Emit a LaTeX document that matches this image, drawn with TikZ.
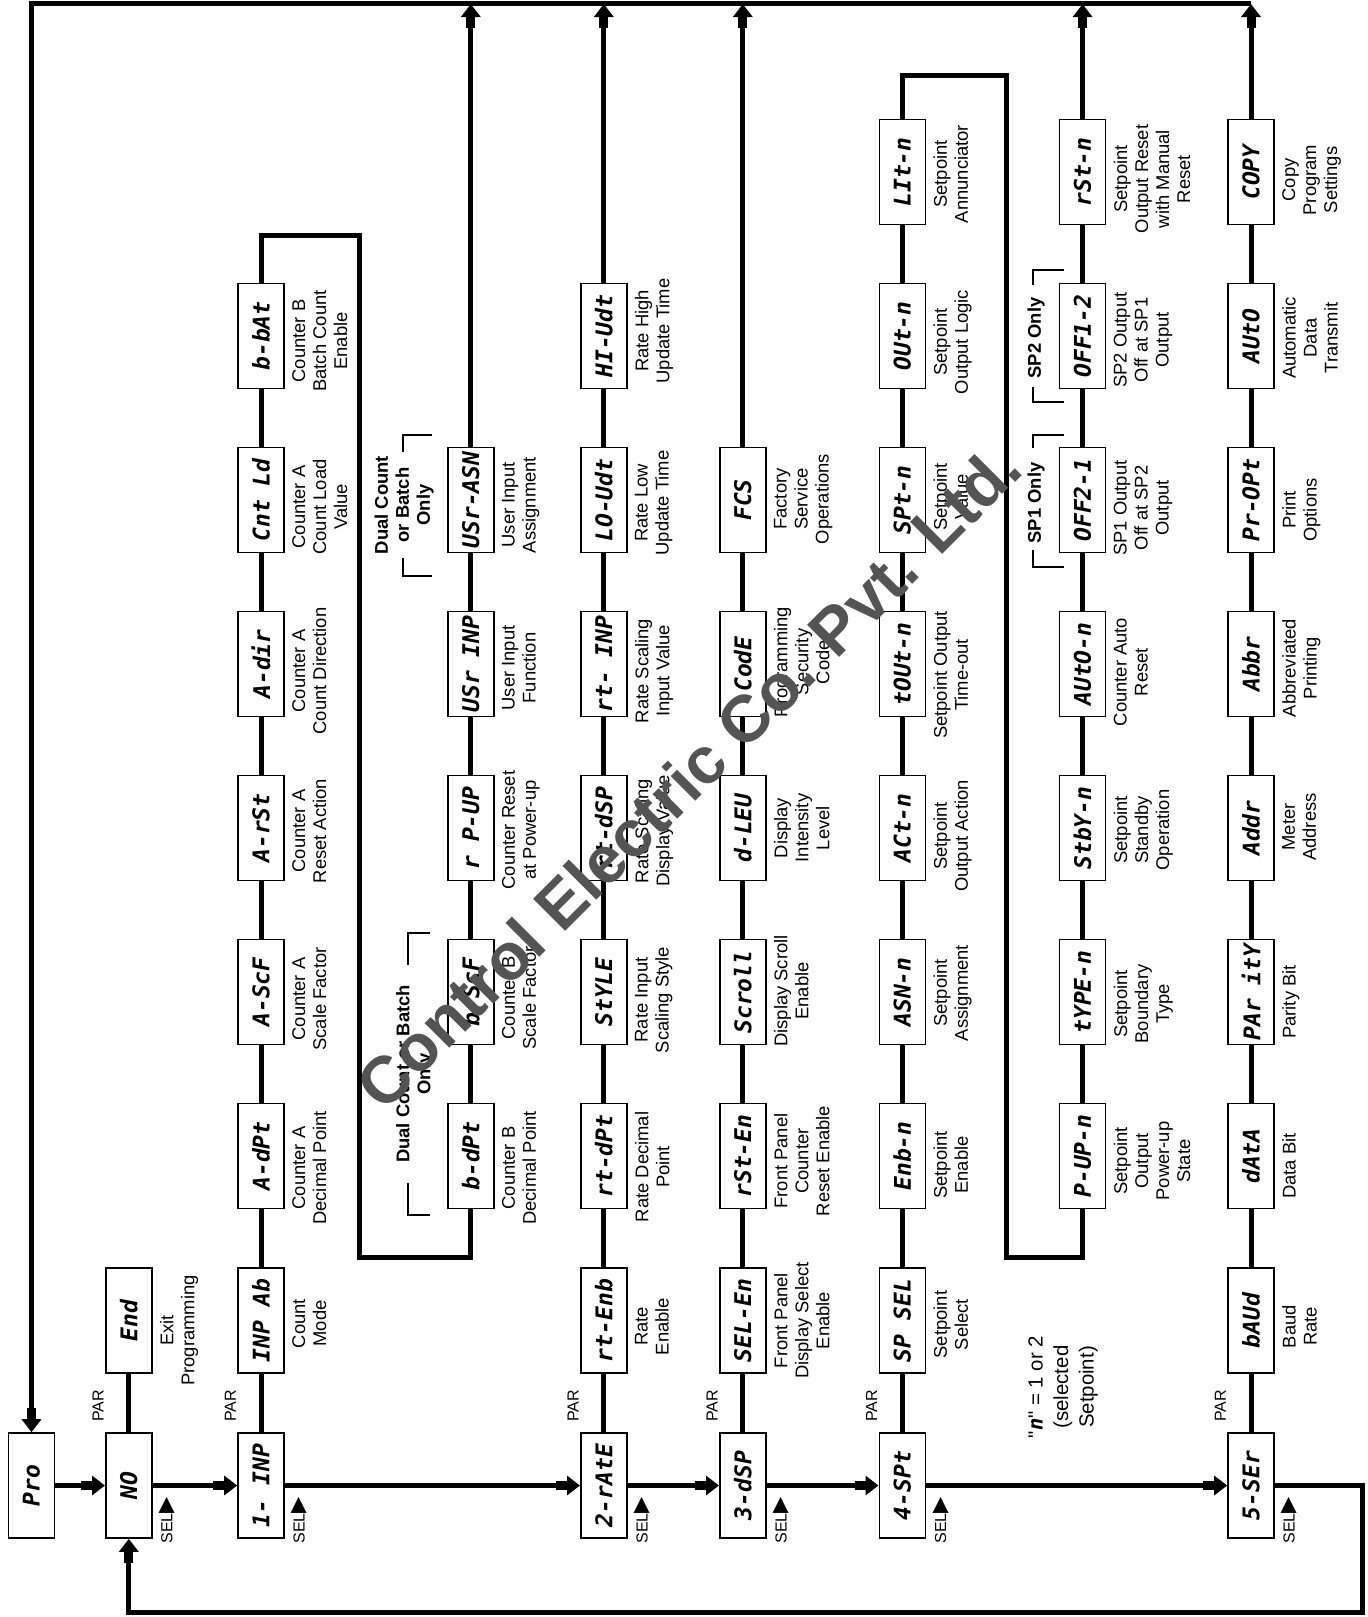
\documentclass[tikz,border=0pt]{standalone}
\usepackage{fontspec}
\setmainfont{Liberation Sans}
\newfontfamily\segfont{DejaVu Sans Mono}
\newfontfamily\symfont{DejaVu Sans}
\newfontfamily\plainfont{Liberation Sans}
\usetikzlibrary{arrows.meta,calc}
\newcommand{\rb}[1]{\rotatebox{90}{#1}}
\newcommand{\dscr}[3]{\node[desc] (d#1) at ($(#1.east)+(7,#2)$) {#3};}
\newcommand{\parl}[1]{\node[lbl,anchor=south west] (p#1) at ($(#1.north west)+(-1,-10)$) {PAR};}
\newcommand{\sell}[1]{\node[lbl,anchor=north west] (s#1) at ($(#1.south east)+(6,5)$) {SEL{\symfont\fontsize{10.5}{10}\selectfont ▶}};}
\begin{document}
\begin{tikzpicture}[x=0.5pt,y=-0.5pt,
 lcd/.style={draw,line width=0.8pt,minimum width=23pt,minimum height=52.5pt,inner sep=0pt,font=\fontsize{11.5}{12}\segfont\bfseries\itshape},
 wire/.style={line width=2.5pt},
 arr/.style={-{Rectangle[length=5.5pt,width=4.5pt]Triangle[length=6.5pt,width=9.5pt]}},
 desc/.style={rotate=90,anchor=north,align=center,inner sep=0pt,font=\fontsize{9.2}{10.5}\selectfont},
 lbl/.style={rotate=90,inner sep=0pt,font=\fontsize{8}{9}\selectfont},
 only/.style={rotate=90,align=center,inner sep=0pt,font=\fontsize{9.2}{10.5}\selectfont\bfseries},
 brk/.style={line width=0.6pt},
]
\useasboundingbox (0,0) rectangle (1368,1617);
% columns
\def\cP{31.5}\def\cN{128.8}\def\cA{261}\def\cB{470.8}\def\cC{603.8}\def\cD{742.8}\def\cE{902.3}\def\cF{1082.6}\def\cG{1251}
% main row
\node[lcd] (npro) at (\cP,1485.5) {\rb{Pro}};
\node[lcd] (nno) at (\cN,1485.5) {\rb{NO}};
\node[lcd] (ninp) at (\cA,1485.5) {\rb{1- INP}};
\node[lcd] (nrate) at (\cC,1485.5) {\rb{2-rAtE}};
\node[lcd] (ndsp) at (\cD,1485.5) {\rb{3-dSP}};
\node[lcd] (nspt) at (\cE,1485.5) {\rb{4-SPt}};
\node[lcd] (nser) at (\cG,1485.5) {\rb{5-SEr}};
% row 1
\node[lcd] (nend) at (\cN,1320.5) {\rb{End}};
\node[lcd] (ninpab) at (\cA,1320.5) {\rb{INP Ab}};
\node[lcd] (nrtenb) at (\cC,1320.5) {\rb{rt-Enb}};
\node[lcd] (nselen) at (\cD,1320.5) {\rb{SEL-En}};
\node[lcd] (nspsel) at (\cE,1320.5) {\rb{SP SEL}};
\node[lcd] (nbaud) at (\cG,1320.5) {\rb{bAUd}};
% row 2
\node[lcd] (nadpt) at (\cA,1156) {\rb{A-dPt}};
\node[lcd] (nbdpt) at (\cB,1156) {\rb{b-dPt}};
\node[lcd] (nrtdpt) at (\cC,1156) {\rb{rt-dPt}};
\node[lcd] (nrsten) at (\cD,1156) {\rb{rSt-En}};
\node[lcd] (nenbn) at (\cE,1156) {\rb{Enb-n}};
\node[lcd] (npupn) at (\cF,1156) {\rb{P-UP-n}};
\node[lcd] (ndata) at (\cG,1156) {\rb{dAtA}};
% row 3
\node[lcd] (nascf) at (\cA,992) {\rb{A-ScF}};
\node[lcd] (nbscf) at (\cB,992) {\rb{b-ScF}};
\node[lcd] (nstyle) at (\cC,992) {\rb{StYLE}};
\node[lcd] (nscroll) at (\cD,992) {\rb{Scroll}};
\node[lcd] (nasnn) at (\cE,992) {\rb{ASN-n}};
\node[lcd] (ntypen) at (\cF,992) {\rb{tYPE-n}};
\node[lcd] (nparity) at (\cG,992) {\rb{PAr itY}};
% row 4
\node[lcd] (narst) at (\cA,828) {\rb{A-rSt}};
\node[lcd] (nrpup) at (\cB,828) {\rb{r P-UP}};
\node[lcd] (nrtdsp) at (\cC,828) {\rb{rt-dSP}};
\node[lcd] (ndleu) at (\cD,828) {\rb{d-LEU}};
\node[lcd] (nactn) at (\cE,828) {\rb{ACt-n}};
\node[lcd] (nstbyn) at (\cF,828) {\rb{StbY-n}};
\node[lcd] (naddr) at (\cG,828) {\rb{Addr}};
% row 5
\node[lcd] (nadir) at (\cA,664) {\rb{A-dir}};
\node[lcd] (nusrinp) at (\cB,664) {\rb{USr INP}};
\node[lcd] (nrtinp) at (\cC,664) {\rb{rt- INP}};
\node[lcd] (ncode) at (\cD,664) {\rb{CodE}};
\node[lcd] (ntoutn) at (\cE,664) {\rb{tOUt-n}};
\node[lcd] (nauton) at (\cF,664) {\rb{AUtO-n}};
\node[lcd] (nabbr) at (\cG,664) {\rb{Abbr}};
% row 6
\node[lcd] (ncntld) at (\cA,500) {\rb{Cnt Ld}};
\node[lcd] (nusrasn) at (\cB,500) {\rb{USr-ASN}};
\node[lcd] (nloudt) at (\cC,500) {\rb{LO-Udt}};
\node[lcd] (nfcs) at (\cD,500) {\rb{FCS}};
\node[lcd] (nsptn) at (\cE,500) {\rb{SPt-n}};
\node[lcd] (noff21) at (\cF,500) {\rb{OFF2-1}};
\node[lcd] (npropt) at (\cG,500) {\rb{Pr-OPt}};
% row 7
\node[lcd] (nbbat) at (\cA,336) {\rb{b-bAt}};
\node[lcd] (nhiudt) at (\cC,336) {\rb{HI-Udt}};
\node[lcd] (noutn) at (\cE,336) {\rb{OUt-n}};
\node[lcd] (noff12) at (\cF,336) {\rb{OFF1-2}};
\node[lcd] (nautox) at (\cG,336) {\rb{AUtO}};
% row 8
\node[lcd] (nlitn) at (\cE,172) {\rb{LIt-n}};
\node[lcd] (nrstn) at (\cF,172) {\rb{rSt-n}};
\node[lcd] (ncopy) at (\cG,172) {\rb{COPY}};

% coordinates
\coordinate (tl) at (\cP,3);
\coordinate (ta) at (0,4);
\coordinate (la) at (\cA,235);
\coordinate (lb) at (359,235);
\coordinate (lc) at (359,1257);
\coordinate (ld) at (\cB,1257);
\coordinate (ma) at (\cE,75);
\coordinate (mb) at (1006,75);
\coordinate (mc) at (1006,1257);
\coordinate (md) at (\cF,1257);
\coordinate (rr) at (1362,1612);

% top line and entry
\draw[wire,arr] (ncopy.north |- tl) -- (tl) -- (npro);
% main flow
\draw[wire,arr] (npro) -- (nno);
\draw[wire,arr] (nno) -- (ninp);
\draw[wire,arr] (ninp) -- (nrate);
\draw[wire,arr] (nrate) -- (ndsp);
\draw[wire,arr] (ndsp) -- (nspt);
\draw[wire,arr] (nspt) -- (nser);
\draw[wire,arr] (nser.east) -- (nser.east -| rr) -- (rr) -- (nno |- rr) -- (nno);
% columns
\draw[wire] (nno) -- (nend);
\draw[wire] (ninp) -- (ninpab) -- (nadpt) -- (nascf) -- (narst) -- (nadir) -- (ncntld) -- (nbbat);
\draw[wire] (nbbat) -- (la) -- (lb) -- (lc) -- (ld) -- (nbdpt);
\draw[wire] (nbdpt) -- (nbscf) -- (nrpup) -- (nusrinp) -- (nusrasn);
\draw[wire,arr] (nusrasn) -- (nusrasn |- ta);
\draw[wire] (nrate) -- (nrtenb) -- (nrtdpt) -- (nstyle) -- (nrtdsp) -- (nrtinp) -- (nloudt) -- (nhiudt);
\draw[wire,arr] (nhiudt) -- (nhiudt |- ta);
\draw[wire] (ndsp) -- (nselen) -- (nrsten) -- (nscroll) -- (ndleu) -- (ncode) -- (nfcs);
\draw[wire,arr] (nfcs) -- (nfcs |- ta);
\draw[wire] (nspt) -- (nspsel) -- (nenbn) -- (nasnn) -- (nactn) -- (ntoutn) -- (nsptn) -- (noutn) -- (nlitn);
\draw[wire] (nlitn) -- (ma) -- (mb) -- (mc) -- (md) -- (npupn);
\draw[wire] (npupn) -- (ntypen) -- (nstbyn) -- (nauton) -- (noff21) -- (noff12) -- (nrstn);
\draw[wire,arr] (nrstn) -- (nrstn |- ta);
\draw[wire] (nser) -- (nbaud) -- (ndata) -- (nparity) -- (naddr) -- (nabbr) -- (npropt) -- (nautox) -- (ncopy);
\draw[wire,arr] (ncopy) -- (ncopy |- ta);

% PAR / SEL labels
\parl{nno}\parl{ninp}\parl{nrate}\parl{ndsp}\parl{nspt}\parl{nser}
\sell{nno}\sell{ninp}\sell{nrate}\sell{ndsp}\sell{nspt}\sell{nser}

% descriptions
\dscr{nend}{10}{Exit\\Programming}
\dscr{ninpab}{3}{Count\\Mode}
\dscr{nadpt}{12}{Counter A\\Decimal Point}
\dscr{nascf}{7}{Counter A\\Scale Factor}
\dscr{narst}{3}{Counter A\\Reset Action}
\dscr{nadir}{7}{Counter A\\Count Direction}
\dscr{ncntld}{7}{Counter A\\Count Load\\Value}
\dscr{nbbat}{5}{Counter B\\Batch Count\\Enable}
\dscr{nbdpt}{12}{Counter B\\Decimal Point}
\dscr{nbscf}{6}{Counter B\\Scale Factor}
\dscr{nrpup}{2}{Counter Reset\\at Power-up}
\dscr{nusrinp}{4}{User Input\\Function}
\dscr{nusrasn}{5}{User Input\\Assignment}
\dscr{nrtenb}{6}{Rate\\Enable}
\dscr{nrtdpt}{11}{Rate Decimal\\Point}
\dscr{nstyle}{8}{Rate Input\\Scaling Style}
\dscr{nrtdsp}{3}{Rate Scaling\\Display Value}
\dscr{nrtinp}{7}{Rate Scaling\\Input Value}
\dscr{nloudt}{3}{Rate Low\\Update Time}
\dscr{nhiudt}{-5}{Rate High\\Update Time}
\dscr{nselen}{0}{Front Panel\\Display Select\\Enable}
\dscr{nrsten}{5}{Front Panel\\Counter\\Reset Enable}
\dscr{nscroll}{-1}{Display Scroll\\Enable}
\dscr{ndleu}{0}{Display\\Intensity\\Level}
\dscr{ncode}{-2}{Programming\\Security\\Code}
\dscr{nfcs}{-1}{Factory\\Service\\Operations}
\dscr{nspsel}{4}{Setpoint\\Select}
\dscr{nenbn}{9}{Setpoint\\Enable}
\dscr{nasnn}{1}{Setpoint\\Assignment}
\dscr{nactn}{8}{Setpoint\\Output Action}
\dscr{ntoutn}{11}{Setpoint Output\\Time-out}
\dscr{nsptn}{-3}{Setpoint\\Value}
\dscr{noutn}{6}{Setpoint\\Output Logic}
\dscr{nlitn}{2}{Setpoint\\Annunciator}
\dscr{npupn}{5}{Setpoint\\Output\\Power-up\\State}
\dscr{ntypen}{12}{Setpoint\\Boundary\\Type}
\dscr{nstbyn}{2}{Setpoint\\Standby\\Operation}
\dscr{nauton}{8}{Counter Auto\\Reset}
\dscr{noff21}{8}{SP1 Output\\Off at SP2\\Output}
\dscr{noff12}{4}{SP2 Output\\Off at SP1\\Output}
\dscr{nrstn}{7}{Setpoint\\Output Reset\\with Manual\\Reset}
\dscr{nbaud}{6}{Baud\\Rate}
\dscr{ndata}{10}{Data Bit}
\dscr{nparity}{10}{Parity Bit}
\dscr{naddr}{-1}{Meter\\Address}
\dscr{nabbr}{4}{Abbreviated\\Printing}
\dscr{npropt}{10}{Print\\Options}
\dscr{nautox}{2}{Automatic\\Data\\Transmit}
\dscr{ncopy}{8}{Copy\\Program\\Settings}

% "only" groups
\node[only] (o1) at (415,1074) {Dual Count or Batch\\Only};
\draw[brk] (430,1215) -- (408,1215) -- (408,1183);
\draw[brk] (430,933) -- (408,933) -- (408,965);
\node[only] (o2) at (404,505) {Dual Count\\or Batch\\Only};
\draw[brk] (432,576) -- (403,576) -- (403,558);
\draw[brk] (432,435) -- (403,435) -- (403,452);
\node[only] (o3) at (1036,503) {SP1 Only};
\draw[brk] (1064,567) -- (1033,567) -- (1033,550);
\draw[brk] (1064,435) -- (1033,435) -- (1033,448);
\node[only] (o4) at (1036,338) {SP2 Only};
\draw[brk] (1064,402) -- (1033,402) -- (1033,387);
\draw[brk] (1064,270) -- (1033,270) -- (1033,285);

% note
\node[rotate=90,align=center,inner sep=0pt,font=\fontsize{10.2}{12.75}\selectfont] (nnote) at (1063,1387) {{\plainfont"}{\segfont\bfseries\itshape n}{\plainfont"} = 1 or 2\\(selected\\Setpoint)};

% watermark
\node[rotate=45,inner sep=0pt,text=black!67,font=\fontsize{33}{33}\selectfont\bfseries] (wm) at (688,776) {Control Electric Co. Pvt. Ltd.};
\end{tikzpicture}
\end{document}
